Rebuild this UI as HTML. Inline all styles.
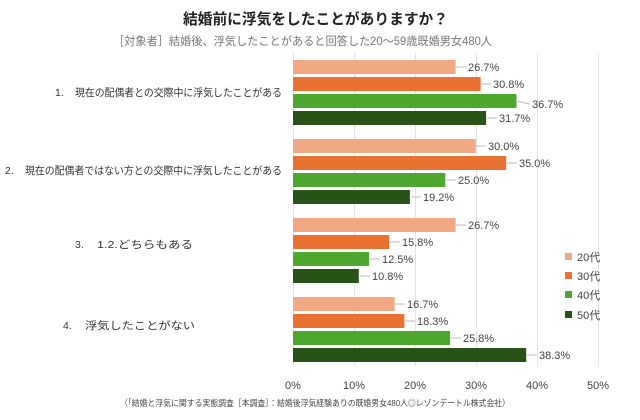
<!DOCTYPE html>
<html><head><meta charset="utf-8"><style>
body{margin:0;background:#fff}
svg{display:block;font-family:"Liberation Sans","Noto Sans CJK JP",sans-serif}
</style></head><body>
<svg width="640" height="420" viewBox="0 0 640 420">
<rect width="640" height="420" fill="#fff"/>
<text x="183" y="24" font-size="15" font-weight="bold" fill="#222" textLength="265" lengthAdjust="spacingAndGlyphs">結婚前に浮気をしたことがありますか？</text>
<text x="113" y="45" font-size="11.5" fill="#777" textLength="379" lengthAdjust="spacingAndGlyphs">［対象者］結婚後、浮気したことがあると回答した20～59歳既婚男女480人</text>
<g stroke="#e3e3e3" stroke-width="1">
<line x1="293.5" y1="53" x2="293.5" y2="366"/>
<line x1="354.5" y1="53" x2="354.5" y2="366"/>
<line x1="415.5" y1="53" x2="415.5" y2="366"/>
<line x1="476.5" y1="53" x2="476.5" y2="366"/>
<line x1="537.5" y1="53" x2="537.5" y2="366"/>
<line x1="598.5" y1="53" x2="598.5" y2="366"/>
</g>
<g font-size="10.5" fill="#333">
<text x="55" y="96">1.</text><text x="75" y="96" textLength="207" lengthAdjust="spacingAndGlyphs">現在の配偶者との交際中に浮気したことがある</text>
<text x="5" y="174">2.</text><text x="25" y="174" textLength="257" lengthAdjust="spacingAndGlyphs">現在の配偶者ではない方との交際中に浮気したことがある</text>
<text x="75" y="248">3.</text><text x="97" y="248" textLength="96" lengthAdjust="spacingAndGlyphs">1.2.どちらもある</text>
<text x="63" y="329">4.</text><text x="85" y="329" textLength="110" lengthAdjust="spacingAndGlyphs">浮気したことがない</text>
</g>
<g font-size="11" fill="#444">
<rect x="293" y="60" width="162.6" height="14" fill="#f1a984"/><line x1="456" y1="67" x2="466" y2="67" stroke="#bbb"/><text x="468" y="71">26.7%</text>
<rect x="293" y="77" width="187.6" height="14" fill="#e97132"/><line x1="481" y1="84" x2="491" y2="84" stroke="#bbb"/><text x="493" y="88">30.8%</text>
<rect x="293" y="94" width="223.5" height="14" fill="#4ea72e"/><line x1="517" y1="101" x2="530" y2="104" stroke="#bbb"/><text x="532" y="108">36.7%</text>
<rect x="293" y="111" width="193.1" height="14" fill="#275317"/><line x1="487" y1="118" x2="497" y2="118" stroke="#bbb"/><text x="499" y="122">31.7%</text>

<rect x="293" y="139" width="182.7" height="14" fill="#f1a984"/><line x1="476" y1="146" x2="486" y2="146" stroke="#bbb"/><text x="488" y="150">30.0%</text>
<rect x="293" y="156" width="213.2" height="14" fill="#e97132"/><line x1="507" y1="163" x2="517" y2="163" stroke="#bbb"/><text x="519" y="167">35.0%</text>
<rect x="293" y="173" width="152.3" height="14" fill="#4ea72e"/><line x1="446" y1="180" x2="456" y2="180" stroke="#bbb"/><text x="458" y="184">25.0%</text>
<rect x="293" y="190" width="116.9" height="14" fill="#275317"/><line x1="411" y1="197" x2="421" y2="197" stroke="#bbb"/><text x="423" y="201">19.2%</text>

<rect x="293" y="218" width="162.6" height="14" fill="#f1a984"/><line x1="456" y1="225" x2="466" y2="225" stroke="#bbb"/><text x="468" y="229">26.7%</text>
<rect x="293" y="235" width="96.2" height="14" fill="#e97132"/><line x1="390" y1="242" x2="400" y2="242" stroke="#bbb"/><text x="402" y="246">15.8%</text>
<rect x="293" y="252" width="76.1" height="14" fill="#4ea72e"/><line x1="370" y1="259" x2="380" y2="259" stroke="#bbb"/><text x="382" y="263">12.5%</text>
<rect x="293" y="269" width="65.8" height="14" fill="#275317"/><line x1="360" y1="276" x2="370" y2="276" stroke="#bbb"/><text x="372" y="280">10.8%</text>

<rect x="293" y="297" width="101.7" height="14" fill="#f1a984"/><line x1="395" y1="304" x2="405" y2="304" stroke="#bbb"/><text x="407" y="308">16.7%</text>
<rect x="293" y="314" width="111.4" height="14" fill="#e97132"/><line x1="405" y1="321" x2="415" y2="321" stroke="#bbb"/><text x="417" y="325">18.3%</text>
<rect x="293" y="331" width="157.1" height="14" fill="#4ea72e"/><line x1="451" y1="338" x2="461" y2="338" stroke="#bbb"/><text x="463" y="342">25.8%</text>
<rect x="293" y="348" width="233.2" height="14" fill="#275317"/><line x1="527" y1="355" x2="537" y2="355" stroke="#bbb"/><text x="539" y="359">38.3%</text>
</g>
<g font-size="11" fill="#444">
<rect x="565" y="253" width="7" height="7" fill="#f1a984"/><text x="577" y="261">20代</text>
<rect x="565" y="272" width="7" height="7" fill="#e97132"/><text x="577" y="280">30代</text>
<rect x="565" y="291" width="7" height="7" fill="#4ea72e"/><text x="577" y="299">40代</text>
<rect x="565" y="311" width="7" height="7" fill="#275317"/><text x="577" y="319">50代</text>
</g>
<g font-size="11" fill="#444" text-anchor="middle">
<text x="293" y="389">0%</text><text x="354" y="389">10%</text><text x="415" y="389">20%</text>
<text x="476" y="389">30%</text><text x="537" y="389">40%</text><text x="598" y="389">50%</text>
</g>
<text x="120" y="406" font-size="8.5" fill="#444" textLength="390" lengthAdjust="spacingAndGlyphs">（「結婚と浮気に関する実態調査［本調査］：結婚後浮気経験ありの既婚男女480人◎レゾンデートル株式会社）</text>
</svg>
</body></html>
